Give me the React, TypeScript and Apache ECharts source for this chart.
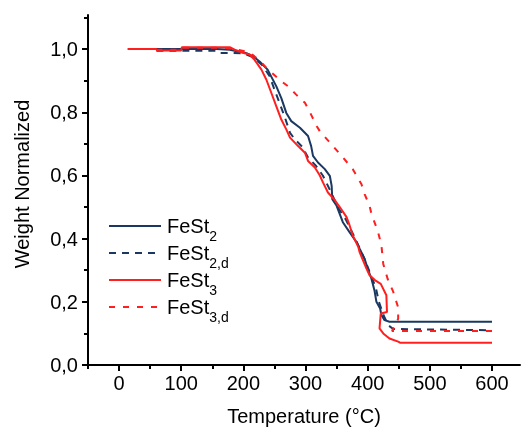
import React, { useEffect, useRef } from 'react';
import * as echarts from 'echarts';

const seriesNames = ['FeSt2', 'FeSt2,d', 'FeSt3', 'FeSt3,d'];
const xMajorTicks = [0, 100, 200, 300, 400, 500, 600];
const xMinorTicks = [-50, 50, 150, 250, 350, 450, 550];
const yMajorTicks = [0, 0.2, 0.4, 0.6, 0.8, 1.0];
const yMinorTicks = [0.1, 0.3, 0.5, 0.7, 0.9, 1.1];

const feSt2 = [
  [14, 1.0], [157, 1.0], [178, 0.998], [205, 0.987], [215, 0.978], [226, 0.961], [239, 0.935],
  [253, 0.882], [261, 0.845], [269, 0.798], [277, 0.772], [291, 0.751], [304, 0.725], [309, 0.693],
  [312, 0.662], [320, 0.641], [331, 0.62], [339, 0.599], [342, 0.567], [343, 0.525], [350, 0.504],
  [360, 0.452], [371, 0.42], [382, 0.389], [387, 0.368], [395, 0.336], [400, 0.305], [406, 0.273],
  [411, 0.235], [414, 0.2], [420, 0.179], [422, 0.158], [427, 0.142], [435, 0.137], [600, 0.137],
];
const feSt2d = [
  [60, 0.995], [155, 0.995], [160, 0.988], [200, 0.987], [215, 0.975], [230, 0.95], [242, 0.915],
  [250, 0.872], [258, 0.83], [266, 0.788], [275, 0.735], [283, 0.714], [295, 0.69], [304, 0.657],
  [317, 0.63], [328, 0.599], [336, 0.567], [345, 0.53], [352, 0.499], [365, 0.46], [380, 0.4],
  [395, 0.335], [405, 0.285], [413, 0.245], [418, 0.2], [426, 0.155], [433, 0.126], [441, 0.114],
  [600, 0.11],
];
const feSt3 = [
  [14, 1.0], [60, 1.0], [61, 0.996], [100, 0.996], [101, 1.006], [178, 1.006], [186, 0.998],
  [202, 0.987], [210, 0.983], [218, 0.966], [229, 0.935], [237, 0.903], [245, 0.861], [253, 0.819],
  [261, 0.777], [269, 0.746], [275, 0.72], [288, 0.693], [299, 0.672], [304, 0.646], [315, 0.625],
  [323, 0.6], [328, 0.578], [336, 0.546], [347, 0.522], [355, 0.5], [366, 0.468], [371, 0.441],
  [376, 0.41], [385, 0.373], [387, 0.357], [398, 0.305], [403, 0.284], [412, 0.268], [421, 0.257],
  [430, 0.221], [431, 0.168], [421, 0.163], [419, 0.116], [425, 0.1], [435, 0.084], [449, 0.074],
  [452, 0.0705], [600, 0.0705],
];
const feSt3d = [
  [60, 0.998], [100, 0.998], [101, 1.004], [170, 1.004], [190, 0.998], [210, 0.99], [225, 0.965],
  [240, 0.935], [258, 0.903], [272, 0.882], [285, 0.856], [299, 0.83], [307, 0.8], [318, 0.756],
  [323, 0.74], [358, 0.662], [376, 0.62], [390, 0.572], [395, 0.541], [403, 0.504], [406, 0.478],
  [416, 0.425], [422, 0.38], [425, 0.32], [432, 0.273], [441, 0.232], [449, 0.182], [449, 0.147],
  [445, 0.125], [439, 0.108], [600, 0.108],
];

const NAVY = '#1a3862';
const RED = '#ff1f1f';
const FONT = '"Liberation Sans", Arial, sans-serif';

export default function App() {
  const ref = useRef<HTMLDivElement>(null);
  useEffect(() => {
    if (!ref.current) return;
    const chart = echarts.init(ref.current, null, { renderer: 'svg' });
    const axisLineStyle = { color: '#000', width: 2 };
    const xBase = { type: 'value', min: -50, max: 645, position: 'bottom', splitLine: { show: false } };
    const yBase = { type: 'value', min: 0, max: 1.108, position: 'left', splitLine: { show: false } };
    const mk = (data: number[][], color: string, type: any, z: number) => ({ data, color, type, z });
    const defs = [
      mk(feSt2, NAVY, 'solid', 2),
      mk(feSt2d, NAVY, [7, 6], 3),
      mk(feSt3, RED, 'solid', 4),
      mk(feSt3d, RED, [6, 8], 5),
    ];
    chart.setOption({
      animation: false,
      grid: { left: 88, right: 1, top: 15, bottom: 64 },
      legend: {
        orient: 'vertical',
        left: 103,
        top: 211,
        itemWidth: 52,
        itemHeight: 14,
        itemGap: 0,
        data: seriesNames,
        itemStyle: { opacity: 0, borderWidth: 0 },
        formatter: (n: string) => `{b|FeSt}{s|${n.slice(4)}}`,
        textStyle: {
          color: '#000',
          fontFamily: FONT,
          rich: {
            b: { fontSize: 20, lineHeight: 34, padding: [0, 0, 0, 1], color: '#000', fontFamily: FONT },
            s: { fontSize: 14, lineHeight: 14, verticalAlign: 'bottom', color: '#000', fontFamily: FONT },
          },
        },
      },
      xAxis: [
        {
          ...xBase,
          axisLine: { show: true, onZero: false, lineStyle: axisLineStyle },
          axisTick: { show: true, inside: false, length: 6, customValues: xMajorTicks, lineStyle: { color: '#000', width: 2 } },
          axisLabel: { show: true, customValues: xMajorTicks, fontSize: 20, color: '#000', margin: 8, fontFamily: FONT },
          name: 'Temperature (°C)',
          nameLocation: 'middle',
          nameGap: 41,
          nameTextStyle: { fontSize: 20, color: '#000', fontFamily: FONT },
        },
        {
          ...xBase,
          axisLine: { show: false, onZero: false },
          axisTick: { show: true, inside: false, length: 4, customValues: xMinorTicks, lineStyle: { color: '#000', width: 2 } },
          axisLabel: { show: false },
        },
      ],
      yAxis: [
        {
          ...yBase,
          axisLine: { show: true, onZero: false, lineStyle: axisLineStyle },
          axisTick: { show: true, inside: false, length: 6, customValues: yMajorTicks, lineStyle: { color: '#000', width: 2 } },
          axisLabel: {
            show: true,
            customValues: yMajorTicks,
            fontSize: 20,
            color: '#000',
            margin: 10,
            fontFamily: FONT,
            formatter: (v: number) => v.toFixed(1).replace('.', ','),
          },
          name: 'Weight Normalized',
          nameLocation: 'middle',
          nameGap: 56,
          nameTextStyle: { fontSize: 20, color: '#000', fontFamily: FONT, padding: [0, 0, 0, 12] },
        },
        {
          ...yBase,
          axisLine: { show: false, onZero: false },
          axisTick: { show: true, inside: false, length: 4, customValues: yMinorTicks, lineStyle: { color: '#000', width: 2 } },
          axisLabel: { show: false },
        },
      ],
      series: defs.map((d, i) => ({
        name: seriesNames[i],
        type: 'line',
        xAxisIndex: 0,
        yAxisIndex: 0,
        data: d.data,
        symbol: 'none',
        showSymbol: false,
        color: d.color,
        z: d.z,
        lineStyle: { color: d.color, width: 2, type: d.type },
        emphasis: { disabled: true },
      })),
    });
    return () => chart.dispose();
  }, []);
  return <div ref={ref} style={{ position: 'fixed', left: 0, top: 0, width: 521, height: 431 }} />;
}
